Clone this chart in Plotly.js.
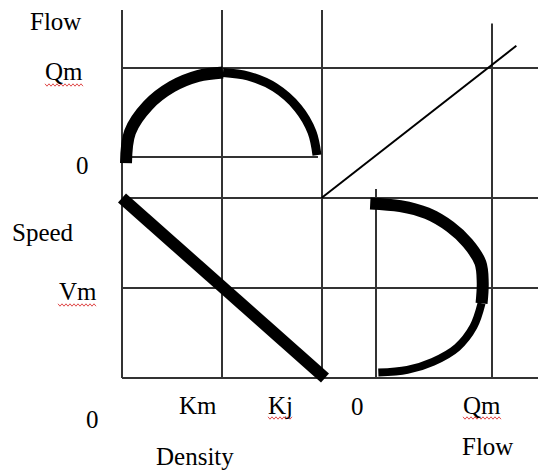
<!DOCTYPE html>
<html>
<head>
<meta charset="utf-8">
<script src="https://cdn.plot.ly/plotly-3.0.1.min.js"></script>
<style>html,body{margin:0;padding:0;background:#fff;}#chart{width:538px;height:470px;}</style>
</head>
<body>
<div id="chart"></div>
<script>
// ---- data (units: Km = 1, Kj = 2 ; Qm = 1 ; Vm = 1, Vf = 2) ----
const densityGrid = [0, 1, 2];          // 0, Km, Kj
const densityGridTop = [4.09, 4.09, 4.09]; // top of the vertical lines (speed units)
const flowGridX = [0, 1];               // 0, Qm on the horizontal flow axis
const flowGridXBottom = [0, 0];
const flowGridXTop = [2.1, 3.94];
const flowGridY = [1, 0];               // Qm, 0 on the vertical flow axis
const flowGridYEnd = [4.16, 1.96];      // right end (density units)
const speedGrid = [2, 1, 0];            // Vf, Vm, 0
const speedGridEnd = [4.16, 4.16, 4.16];

// flow-density curve
const arcDensity = [0.04, 0.08, 0.26, 0.50, 0.76, 1.01, 1.26, 1.53, 1.76, 1.90, 1.95];
const arcFlow    = [-0.07, 0.28, 0.58, 0.79, 0.91, 0.95, 0.91, 0.78, 0.55, 0.28, 0.02];
// speed-density line
const lineDensity = [0, 2.03];
const lineSpeed   = [2, 0];
// speed-flow curve
const curveFlow  = [-0.05, 0.21, 0.44, 0.64, 0.79, 0.90, 0.92, 0.91, 0.84, 0.70, 0.49, 0.27, 0.02];
const curveSpeed = [1.94, 1.91, 1.83, 1.68, 1.50, 1.28, 1.06, 0.83, 0.57, 0.34, 0.18, 0.09, 0.06];
// flow-flow transfer line
const idFlowX = [-0.47, 1.21];
const idFlowY = [-0.46, 1.25];

// labels
const densityLabels = ['Km', 'Kj'];
const flowXLabels = ['0', 'Qm'];
const flowYLabels = ['Qm', '0'];
const speedLabel = 'Vm';

const FONT = {family: '"Liberation Serif", "Times New Roman", serif', size: 25, color: '#000'};
const GRID = {color: '#333', width: 2};
const W = 538, H = 470;

const traces = [];
// flow-density arc (thicker on the left)
traces.push({x: arcDensity.slice(0, 6), y: arcFlow.slice(0, 6), xaxis: 'x', yaxis: 'y', mode: 'lines',
  line: {color: '#000', width: 12, shape: 'spline'}, hoverinfo: 'skip'});
traces.push({x: arcDensity.slice(5), y: arcFlow.slice(5), xaxis: 'x', yaxis: 'y', mode: 'lines',
  line: {color: '#000', width: 9, shape: 'spline'}, hoverinfo: 'skip'});
// speed-density line
traces.push({x: lineDensity, y: lineSpeed, xaxis: 'x', yaxis: 'y2', mode: 'lines',
  line: {color: '#000', width: 12}, hoverinfo: 'skip'});
// speed-flow curve
traces.push({x: curveFlow.slice(0, 8), y: curveSpeed.slice(0, 8), xaxis: 'x2', yaxis: 'y2', mode: 'lines',
  line: {color: '#000', width: 12, shape: 'spline'}, hoverinfo: 'skip'});
traces.push({x: curveFlow.slice(7), y: curveSpeed.slice(7), xaxis: 'x2', yaxis: 'y2', mode: 'lines',
  line: {color: '#000', width: 8, shape: 'spline'}, hoverinfo: 'skip'});
// identity line
traces.push({x: idFlowX, y: idFlowY, xaxis: 'x2', yaxis: 'y', mode: 'lines',
  line: {color: '#000', width: 2}, hoverinfo: 'skip'});

const shapes = [];
densityGrid.forEach((k, i) => shapes.push({type: 'line', xref: 'x', yref: 'y2', x0: k, x1: k, y0: 0, y1: densityGridTop[i], line: GRID, layer: 'below'}));
flowGridX.forEach((f, i) => shapes.push({type: 'line', xref: 'x2', yref: 'y2', x0: f, x1: f, y0: flowGridXBottom[i], y1: flowGridXTop[i], line: GRID, layer: 'below'}));
flowGridY.forEach((q, i) => shapes.push({type: 'line', xref: 'x', yref: 'y', x0: 0, x1: flowGridYEnd[i], y0: q, y1: q, line: GRID, layer: 'below'}));
speedGrid.forEach((v, i) => shapes.push({type: 'line', xref: 'x', yref: 'y2', x0: 0, x1: speedGridEnd[i], y0: v, y1: v, line: GRID, layer: 'below'}));

// red spell-check squiggle under a label (pixel-space placement, paper coords)
function squiggle(xLeft, xRight, yPx) {
  let d = '';
  let up = true;
  for (let px = xLeft, i = 0; px <= xRight; px += 2, i++) {
    const yy = yPx + (up ? -1.2 : 1.2);
    d += (i === 0 ? 'M' : 'L') + (px / W).toFixed(5) + ',' + (1 - yy / H).toFixed(5);
    up = !up;
  }
  return {type: 'path', xref: 'paper', yref: 'paper', path: d, line: {color: '#e04a4a', width: 1}, layer: 'above'};
}
shapes.push(squiggle(45, 83, 85));
shapes.push(squiggle(58, 97, 305));
shapes.push(squiggle(268, 293, 418));
shapes.push(squiggle(463, 501, 418));

const ann = (o) => Object.assign({showarrow: false, font: FONT, xanchor: 'center', yanchor: 'middle'}, o);
const annotations = [
  ann({text: 'Flow', xref: 'paper', yref: 'paper', x: 55.5 / W, y: 1 - 21 / H}),
  ann({text: flowYLabels[0], xref: 'paper', yref: 'y', x: 64 / W, y: flowGridY[0], yshift: -4}),
  ann({text: flowYLabels[1], xref: 'paper', yref: 'y', x: 82.5 / W, y: flowGridY[1], yshift: -8.5}),
  ann({text: 'Speed', xref: 'paper', yref: 'paper', x: 42.5 / W, y: 1 - 232 / H}),
  ann({text: speedLabel, xref: 'paper', yref: 'y2', x: 77.5 / W, y: speedGrid[1], yshift: -3}),
  ann({text: '0', xref: 'paper', yref: 'paper', x: 92 / W, y: 1 - 419 / H}),
  ann({text: densityLabels[0], xref: 'x', yref: 'paper', x: densityGrid[1], xshift: -24.5, y: 1 - 405 / H}),
  ann({text: densityLabels[1], xref: 'x', yref: 'paper', x: densityGrid[2], xshift: -42, y: 1 - 405 / H}),
  ann({text: flowXLabels[0], xref: 'x2', yref: 'paper', x: flowGridX[0], xshift: -19, y: 1 - 406 / H}),
  ann({text: flowXLabels[1], xref: 'x2', yref: 'paper', x: flowGridX[1], xshift: -10, y: 1 - 405.5 / H}),
  ann({text: 'Density', xref: 'paper', yref: 'paper', x: 195 / W, y: 1 - 456 / H}),
  ann({text: 'Flow', xref: 'paper', yref: 'paper', x: 487.5 / W, y: 1 - 446.5 / H})
];

const hidden = {visible: false, showgrid: false, zeroline: false, fixedrange: true};
const layout = {
  width: W, height: H,
  margin: {l: 0, r: 0, t: 0, b: 0},
  paper_bgcolor: '#fff', plot_bgcolor: '#fff',
  showlegend: false,
  xaxis: Object.assign({range: [-1.22, 4.16], domain: [0, 1]}, hidden),
  yaxis: Object.assign({range: [-3.517, 1.764], domain: [0, 1]}, hidden),
  xaxis2: Object.assign({range: [-3.2414, 1.3966], overlaying: 'x', anchor: 'y'}, hidden),
  yaxis2: Object.assign({range: [-1.0222, 4.2], overlaying: 'y', anchor: 'x'}, hidden),
  shapes: shapes,
  annotations: annotations
};

Plotly.newPlot('chart', traces, layout, {staticPlot: true, displayModeBar: false});
</script>
</body>
</html>
